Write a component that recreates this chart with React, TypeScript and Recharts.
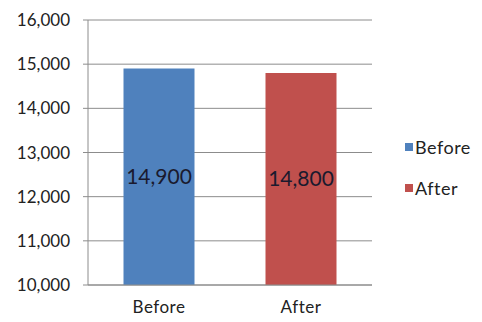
import React from 'react';
import {
  BarChart, Bar, Cell, XAxis, YAxis, CartesianGrid, Legend, LabelList,
} from 'recharts';

const CATEGORIES = ['Before', 'After'];
const VALUES = [14900, 14800];
const COLORS = ['#4F81BD', '#C0504D'];
const Y_TICKS = [10000, 11000, 12000, 13000, 14000, 15000, 16000];

const FONT = 'Lato, "Open Sans", sans-serif';

const fmt = (v: number) => v.toLocaleString('en-US');

const chartData = CATEGORIES.map((name, i) => ({ name, value: VALUES[i] }));

const SideLegend = () => (
  <div style={{ width: 100, paddingLeft: 33, paddingTop: 13, boxSizing: 'border-box', fontFamily: FONT }}>
    {CATEGORIES.map((name, i) => (
      <div key={name} style={{ display: 'flex', alignItems: 'center', height: 41, fontSize: 18, color: '#222', letterSpacing: 0.5 }}>
        <span style={{ width: 8, height: 8, background: COLORS[i], marginRight: 2, display: 'inline-block' }} />
        {name}
      </div>
    ))}
  </div>
);

export default function App() {
  return (
    <div style={{ position: 'absolute', left: 0, top: 0, width: 482, height: 322, background: '#fff' }}>
      <BarChart
        width={482}
        height={322}
        data={chartData}
        margin={{ top: 20, right: 10, left: 0, bottom: 5 }}
        barCategoryGap="25%"
      >
        <CartesianGrid vertical={false} stroke="#8c8c8c" strokeWidth={1} />
        <XAxis
          dataKey="name"
          height={32}
          tickLine={false}
          tickMargin={10}
          axisLine={{ stroke: '#8c8c8c' }}
          tick={{ fill: '#222', fontSize: 17, fontFamily: FONT, letterSpacing: 0.5 }}
        />
        <YAxis
          width={88}
          domain={[10000, 16000]}
          ticks={Y_TICKS}
          tickFormatter={fmt}
          tickSize={5}
          tickMargin={13}
          interval={0}
          axisLine={{ stroke: '#8c8c8c' }}
          tickLine={{ stroke: '#8c8c8c' }}
          tick={{ fill: '#222', fontSize: 17, fontFamily: FONT }}
        />
        <Legend layout="vertical" align="right" verticalAlign="middle" content={<SideLegend />} />
        <Bar dataKey="value" isAnimationActive={false}>
          {chartData.map((_, i) => (
            <Cell key={i} fill={COLORS[i]} />
          ))}
          <LabelList
            dataKey="value"
            position="center"
            formatter={(v: any) => fmt(Number(v))}
            style={{ fill: '#1a1a2e', fontSize: 21, fontFamily: FONT }}
          />
        </Bar>
      </BarChart>
    </div>
  );
}
